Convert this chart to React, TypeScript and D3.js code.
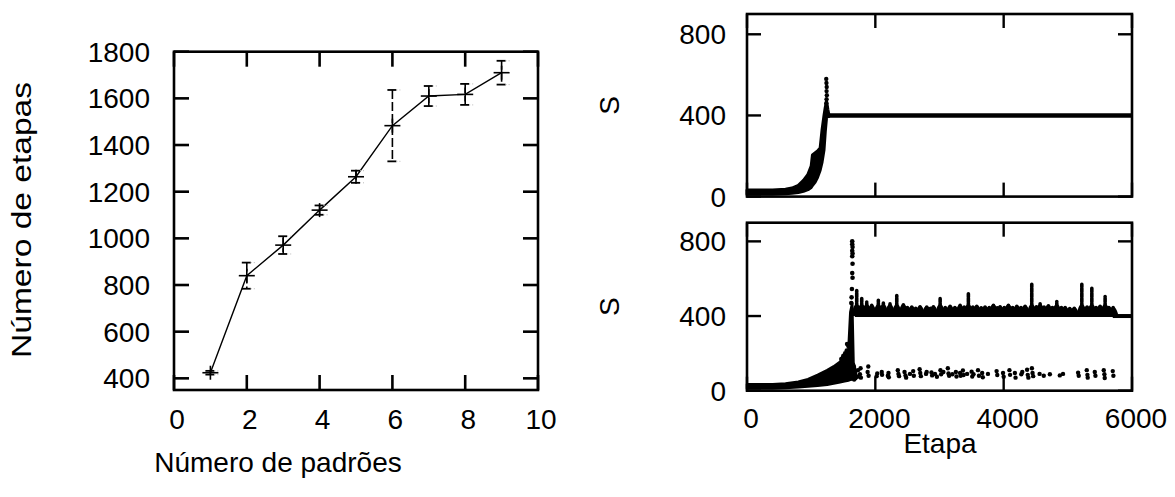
import React from "react";
import * as d3 from "d3";

// ---------- Left panel data ----------
const padroes = [1, 2, 3, 4, 5, 6, 7, 8, 9];
const etapasMean = [424, 840, 971, 1121, 1264, 1483, 1610, 1617, 1710];
const etapasErr = [8, 56, 38, 20, 26, 153, 43, 45, 51];
const leftXTicks = [0, 2, 4, 6, 8, 10];
const leftYTicks = [400, 600, 800, 1000, 1200, 1400, 1600, 1800];

// ---------- Right panels data ----------
const rightXTicks = [0, 2000, 4000, 6000];
const rightYTicks = [0, 400, 800];

// top panel: rising cloud [etapa, low S, high S]
const topRise: [number, number, number][] = [
  [0, 12, 32], [400, 12, 32], [600, 14, 36], [700, 16, 42], [800, 20, 55],
  [880, 26, 80], [950, 34, 110], [1000, 45, 150], [1020, 55, 205], [1060, 70, 215],
  [1100, 95, 225], [1140, 130, 240], [1170, 170, 330], [1200, 230, 400],
  [1220, 320, 440], [1240, 390, 470], [1260, 395, 430], [1275, 395, 405],
];
const topSpike: [number, number][] = [
  [1235, 580], [1238, 560], [1242, 540], [1240, 520], [1244, 500], [1240, 480], [1236, 460],
];
const topPlateau: [number, number][] = [[1265, 400], [6000, 400]];

// bottom panel
const botRise: [number, number, number][] = [
  [0, 12, 35], [400, 12, 35], [600, 14, 38], [800, 18, 48], [950, 22, 62],
  [1100, 26, 85], [1250, 32, 110], [1350, 38, 130], [1450, 45, 155],
  [1520, 50, 185], [1580, 55, 215], [1610, 58, 420], [1640, 60, 470],
  [1660, 60, 150], [1700, 62, 100],
];
const botSpike: [number, number][] = [
  [1640, 800], [1640, 785], [1645, 770], [1640, 750], [1645, 735], [1640, 720],
  [1645, 680], [1640, 630], [1645, 605], [1635, 545], [1630, 500], [1625, 470],
  [1580, 240], [1560, 250], [1530, 200], [1500, 185], [1470, 170], [1555, 215],
];
const botBand: [number, number][] = [[1680, 408], [5750, 408]];
const botTail: [number, number][] = [[5700, 400], [6000, 400]];
const botPeaks: [number, number][] = [
  [1710, 537], [1788, 494], [1866, 475], [1944, 457], [2047, 484], [2125, 470],
  [2229, 465], [2334, 510], [2437, 460], [2500, 445], [2568, 448], [2630, 442],
  [2697, 450], [2801, 448], [2860, 442], [2905, 450], [3010, 493], [3090, 445],
  [3165, 452], [3240, 446], [3321, 457], [3385, 448], [3450, 519], [3520, 448],
  [3581, 452], [3650, 444], [3710, 448], [3775, 446], [3840, 458], [3900, 444],
  [3944, 450], [4010, 446], [4074, 458], [4140, 446], [4205, 452], [4270, 446],
  [4334, 452], [4438, 570], [4510, 450], [4568, 466], [4630, 448], [4697, 455],
  [4760, 446], [4828, 478], [4900, 445], [4958, 446], [5030, 440], [5100, 442],
  [5218, 570], [5300, 448], [5374, 550], [5440, 446], [5503, 452], [5581, 505],
  [5640, 446], [5706, 445],
];
const lowerDots: [number, number][] = [
  [1650, 70], [1660, 95], [1665, 130], [1670, 60], [1720, 75], [1730, 110],
  [1760, 88], [1770, 120], [1775, 70], [1880, 100], [1890, 130], [1895, 80],
  [2020, 78], [2030, 92], [2100, 100], [2105, 85], [2195, 80], [2205, 95], [2210, 72],
  [2350, 110], [2360, 90], [2370, 78], [2455, 100], [2470, 82], [2480, 70],
  [2540, 90], [2590, 105], [2600, 80], [2690, 115], [2700, 95], [2710, 78],
  [2790, 90], [2800, 100], [2875, 98], [2885, 82], [2930, 90], [2960, 75],
  [3015, 110], [3025, 88], [3060, 100], [3130, 120], [3140, 92], [3150, 80],
  [3200, 88], [3255, 100], [3265, 76], [3320, 95], [3330, 80], [3365, 108], [3375, 84],
  [3430, 90], [3500, 102], [3510, 76], [3530, 88], [3600, 110], [3615, 80],
  [3665, 95], [3675, 72], [3755, 90], [3890, 105], [3900, 84], [3990, 95], [4000, 75],
  [4090, 110], [4100, 85], [4175, 95], [4185, 70], [4275, 88], [4290, 100],
  [4365, 112], [4375, 85], [4385, 70], [4440, 120], [4450, 95], [4460, 78],
  [4560, 90], [4625, 80], [4720, 88], [4875, 82], [4925, 90],
  [5160, 96], [5170, 80], [5295, 110], [5305, 85], [5310, 70], [5420, 100], [5430, 80],
  [5560, 110], [5570, 88], [5575, 68], [5700, 105], [5710, 80],
];

const FONT = "'Liberation Sans', Arial, Helvetica, sans-serif";
const FS = 28;

function Frame({ x0, x1, y0, y1 }: { x0: number; x1: number; y0: number; y1: number }) {
  return <rect x={x0} y={y0} width={x1 - x0} height={y1 - y0} fill="none" stroke="#000" strokeWidth={2.6} />;
}

export default function App() {
  // left scales
  const xL = d3.scaleLinear().domain([0, 10]).range([174, 538]);
  const yL = d3.scaleLinear().domain([350, 1800]).range([390, 51.7]);
  const TL = 15;

  const linePath = d3.line<number>().x((d, i) => xL(padroes[i])).y((d) => yL(d))(etapasMean) || "";

  // right scales
  const xR = d3.scaleLinear().domain([0, 6000]).range([747, 1132]);
  const yT = d3.scaleLinear().domain([0, 900]).range([196.6, 14]);
  const yB = d3.scaleLinear().domain([0, 900]).range([390.7, 222.7]);
  const TR = 14;

  const areaFor = (ys: d3.ScaleLinear<number, number>) =>
    d3.area<[number, number, number]>().x((d) => xR(d[0])).y0((d) => ys(d[1])).y1((d) => ys(d[2]));
  const lineFor = (ys: d3.ScaleLinear<number, number>) =>
    d3.line<[number, number]>().x((d) => xR(d[0])).y((d) => ys(d[1]));

  const rightPanel = (ys: d3.ScaleLinear<number, number>, top: number, bottom: number, key: string) => (
    <g key={key}>
      <Frame x0={747} x1={1132} y0={top} y1={bottom} />
      {rightXTicks.map((t) => (
        <g key={"x" + t}>
          <line x1={xR(t)} x2={xR(t)} y1={bottom} y2={bottom - TR} stroke="#000" strokeWidth={2.4} />
          <line x1={xR(t)} x2={xR(t)} y1={top} y2={top + TR} stroke="#000" strokeWidth={2.4} />
        </g>
      ))}
      {rightYTicks.map((t) => (
        <g key={"y" + t}>
          <line x1={747} x2={747 + TR} y1={ys(t)} y2={ys(t)} stroke="#000" strokeWidth={2.4} />
          <line x1={1132} x2={1132 - TR} y1={ys(t)} y2={ys(t)} stroke="#000" strokeWidth={2.4} />
          <text x={726} y={ys(t) + 10} textAnchor="end" fontFamily={FONT} fontSize={FS}>{t}</text>
        </g>
      ))}
      <text transform={`translate(619,${(top + bottom) / 2}) rotate(-90)`} textAnchor="middle" fontFamily={FONT} fontSize={FS}>S</text>
    </g>
  );

  // rounded hump from the band; tall peaks get a dotted column on top
  const humpPath = (et: number, s: number) => {
    const x = xR(et);
    const yb = yB(400);
    const yp = Math.max(yB(s), yb - 11);
    const w = 5.5;
    return `M${x - w},${yb} C${x - 3.5},${yp + 1} ${x - 2},${yp - 1} ${x},${yp - 1} C${x + 2},${yp - 1} ${x + 3.5},${yp + 1} ${x + w},${yb} Z`;
  };

  return (
    <svg width={1175} height={497} style={{ position: "absolute", left: 0, top: 0, background: "#fff" }}>
      <rect width={1175} height={497} fill="#fff" />
      {/* ---------- LEFT PANEL ---------- */}
      <Frame x0={174} x1={538} y0={51.7} y1={390} />
      {leftXTicks.map((t) => (
        <g key={"lx" + t}>
          <line x1={xL(t)} x2={xL(t)} y1={390} y2={390 - TL} stroke="#000" strokeWidth={2.6} />
          <line x1={xL(t)} x2={xL(t)} y1={51.7} y2={51.7 + TL} stroke="#000" strokeWidth={2.6} />
          <text x={xL(t) + 3} y={429} textAnchor="middle" fontFamily={FONT} fontSize={FS}>{t}</text>
        </g>
      ))}
      {leftYTicks.map((t) => (
        <g key={"ly" + t}>
          <line x1={174} x2={174 + TL} y1={yL(t)} y2={yL(t)} stroke="#000" strokeWidth={2.6} />
          <line x1={538} x2={538 - TL} y1={yL(t)} y2={yL(t)} stroke="#000" strokeWidth={2.6} />
          <text x={150} y={yL(t) + 10} textAnchor="end" fontFamily={FONT} fontSize={FS}>{t}</text>
        </g>
      ))}
      <path d={linePath} fill="none" stroke="#000" strokeWidth={1.4} />
      {padroes.map((p, i) => {
        const x = xL(p);
        const yt = yL(etapasMean[i] + etapasErr[i]);
        const yb = yL(etapasMean[i] - etapasErr[i]);
        const yc = yL(etapasMean[i]);
        return (
          <g key={"e" + p}>
            <line x1={x} x2={x} y1={yt} y2={yb} stroke="#000" strokeWidth={1.6} strokeDasharray="9,3" />
            <line x1={x - 5} x2={x + 4} y1={yt} y2={yt} stroke="#000" strokeWidth={1.8} />
            <line x1={x + 4} x2={x + 8} y1={yt} y2={yt} stroke="#bbb" strokeWidth={1} strokeDasharray="1,2" />
            <line x1={x - 5} x2={x + 4} y1={yb} y2={yb} stroke="#000" strokeWidth={1.8} />
            <line x1={x + 4} x2={x + 8} y1={yb} y2={yb} stroke="#bbb" strokeWidth={1} strokeDasharray="1,2" />
            <line x1={x - 8} x2={x + 8} y1={yc} y2={yc} stroke="#000" strokeWidth={1.6} />
            <line x1={x} x2={x} y1={yc - 7} y2={yc + 7} stroke="#000" strokeWidth={1.6} />
          </g>
        );
      })}
      <text x={278} y={472} textAnchor="middle" fontFamily={FONT} fontSize={FS}>Número de padrões</text>
      <text transform="translate(31,220) rotate(-90)" textAnchor="middle" fontFamily={FONT} fontSize={27}
        textLength={276} lengthAdjust="spacingAndGlyphs">Número de etapas</text>

      {/* ---------- RIGHT TOP ---------- */}
      <g>
        <path d={areaFor(yT)(topRise) || ""} fill="#000" stroke="#000" strokeWidth={3} strokeLinejoin="round" />
        <path d={lineFor(yT)(topPlateau) || ""} stroke="#000" strokeWidth={4.5} fill="none" />
        {topSpike.map((d, i) => (
          <circle key={"ts" + i} cx={xR(d[0])} cy={yT(d[1])} r={2.2} fill="#000" />
        ))}
      </g>
      {rightPanel(yT, 14, 196.6, "top")}

      {/* ---------- RIGHT BOTTOM ---------- */}
      <g>
        <path d={areaFor(yB)(botRise) || ""} fill="#000" stroke="#000" strokeWidth={2.5} strokeLinejoin="round" />
        {botSpike.map((d, i) => (
          <circle key={"bs" + i} cx={xR(d[0])} cy={yB(d[1])} r={2.3} fill="#000" />
        ))}
        <path d={lineFor(yB)(botBand) || ""} stroke="#000" strokeWidth={5} fill="none" />
        <path d={lineFor(yB)(botTail) || ""} stroke="#000" strokeWidth={4} fill="none" />
        {botPeaks.map((d, i) => (
          <g key={"bp" + i}>
            <path d={humpPath(d[0], d[1])} fill="#000" />
            <line x1={xR(d[0])} x2={xR(d[0])} y1={yB(420)} y2={yB(d[1])} stroke="#000" strokeWidth={3.6}
              strokeLinecap="round" strokeDasharray={d[1] > 470 ? "4,1" : undefined} />
          </g>
        ))}
        {lowerDots.map((d, i) => (
          <circle key={"ld" + i} cx={xR(d[0])} cy={yB(d[1])} r={2.2} fill="#000" />
        ))}
      </g>
      {rightPanel(yB, 222.7, 390.7, "bot")}
      {rightXTicks.map((t) => (
        <text key={"rxl" + t} x={xR(t) + 4} y={428} textAnchor="middle" fontFamily={FONT} fontSize={FS}>{t}</text>
      ))}
      <text x={940} y={453} textAnchor="middle" fontFamily={FONT} fontSize={FS}>Etapa</text>
    </svg>
  );
}
